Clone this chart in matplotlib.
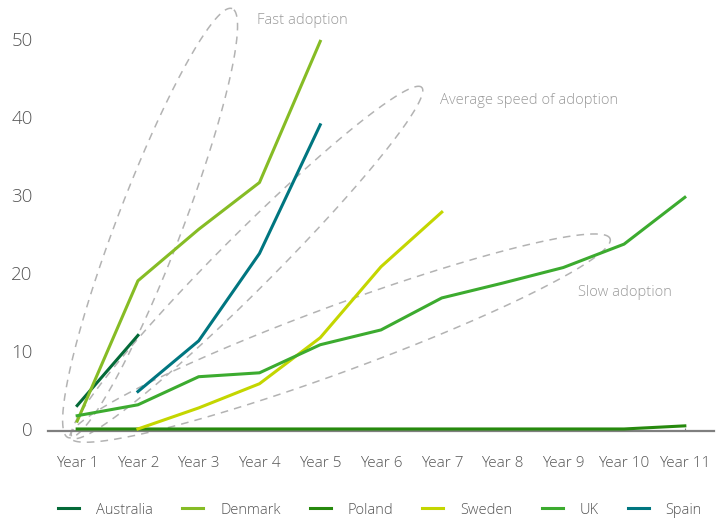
import numpy as np
import matplotlib
matplotlib.use('Agg')
import matplotlib.pyplot as plt

plt.rcParams['font.family'] = ['Open Sans', 'DejaVu Sans']

# du lieu
years = ['Year 1', 'Year 2', 'Year 3', 'Year 4', 'Year 5', 'Year 6',
         'Year 7', 'Year 8', 'Year 9', 'Year 10', 'Year 11']
australia = [3, 12]
denmark = [1, 19, 25.6, 31.6, 49.7]
poland = [0, 0, 0, 0, 0, 0, 0, 0, 0, 0, 0.4]
sweden = [0, 2.7, 5.8, 11.7, 20.8, 27.8]   # bat dau Year 2
uk = [1.7, 3.1, 6.7, 7.2, 10.8, 12.7, 16.8, 18.7, 20.7, 23.7, 29.7]
spain = [4.8, 11.3, 22.5, 39.0]            # bat dau Year 2

# (diem dau, diem cuoi, be rong px) cua cac hinh elip
groups = ['Fast adoption', 'Average speed of adoption', 'Slow adoption']
group_ends = [((0.85, -1.1), (3.55, 53.9)),
              ((0.92, -1.1), (6.67, 43.8)),
              ((0.885, -1.1), (9.77, 24.4))]
group_widths = [65, 55, 66]
group_label_pos = [(3.96, 52.4), (6.97, 42.1), (9.24, 17.5)]

colors = {'Australia': '#046a38', 'Denmark': '#86bc25', 'Poland': '#26890d',
          'Sweden': '#c4d600', 'UK': '#3cab2f', 'Spain': '#007680'}

fig = plt.figure(figsize=(7.18, 5.19), dpi=100)
ax = fig.add_axes([48 / 718, 88 / 519, 666 / 718, 431 / 519])
ax.set_xlim(0.52, 11.48)
ax.set_ylim(-0.26, 55.0)

x = np.arange(1, len(years) + 1)
lw = 2.2
ax.plot(x[:2], australia, color=colors['Australia'], lw=lw, label='Australia', zorder=3)
ax.plot(x[:5], denmark, color=colors['Denmark'], lw=lw, label='Denmark', zorder=3)
ax.plot(x, poland, color=colors['Poland'], lw=lw, label='Poland', zorder=3)
ax.plot(x[1:7], sweden, color=colors['Sweden'], lw=lw, label='Sweden', zorder=3)
ax.plot(x, uk, color=colors['UK'], lw=lw, label='UK', zorder=3)
ax.plot(x[1:5], spain, color=colors['Spain'], lw=lw, label='Spain', zorder=3)

# ve elip trong khong gian pixel roi doi ve toa do du lieu
t = np.linspace(0, 2 * np.pi, 400)
for (p0, p1), w, name, pos in zip(group_ends, group_widths, groups, group_label_pos):
    a = ax.transData.transform(p0)
    b = ax.transData.transform(p1)
    c = (a + b) / 2
    d = b - a
    L = np.hypot(*d)
    u = d / L
    n = np.array([-u[1], u[0]])
    pts = c + np.outer(np.cos(t) * L / 2, u) + np.outer(np.sin(t) * w / 2, n)
    dpts = ax.transData.inverted().transform(pts)
    ax.plot(dpts[:, 0], dpts[:, 1], color='#b3b3b3', lw=1.1,
            dashes=(5, 4), clip_on=False, zorder=2)
    ax.text(pos[0], pos[1], name, fontsize=10.6, color='#9a9a9a',
            ha='left', va='center', fontweight='light')

ax.set_xticks(x)
ax.set_xticklabels(years, fontweight='light')
ax.set_yticks([0, 10, 20, 30, 40, 50])
ax.set_yticklabels(['0', '10', '20', '30', '40', '50'], fontweight='light')
ax.tick_params(axis='y', length=0, pad=11, labelsize=13.5, labelcolor='#555555')
ax.tick_params(axis='x', length=2, direction='in', color='#7f7f7f',
               pad=18, labelsize=11, labelcolor='#555555')
for s in ['top', 'right', 'left']:
    ax.spines[s].set_visible(False)
ax.spines['bottom'].set_color('#7f7f7f')
ax.spines['bottom'].set_linewidth(1.6)

fig.legend(loc='center', bbox_to_anchor=(380 / 718, 9 / 519), ncol=6,
           frameon=False, handlelength=1.44, handletextpad=1.16,
           columnspacing=2.0, labelcolor='#555555',
           prop={'size': 10.5, 'weight': 'light'})

fig.savefig('out.png', dpi=100)
